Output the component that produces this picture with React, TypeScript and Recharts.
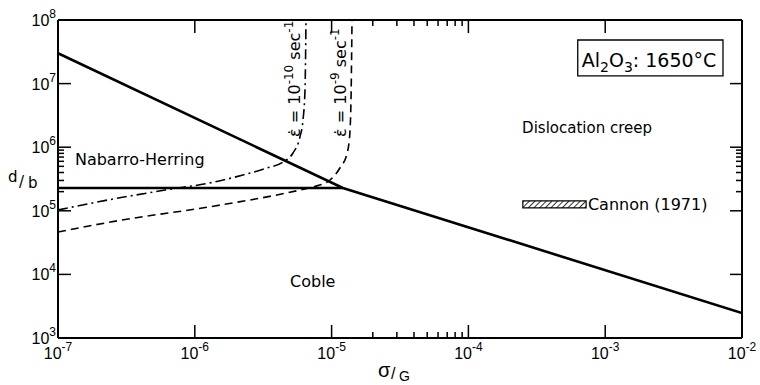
import { LineChart, Line, XAxis, YAxis, ReferenceArea, ReferenceDot } from "recharts";

const FONT = "'Liberation Sans', Arial, sans-serif";
const LABEL_FONT = "'DejaVu Sans', sans-serif";

// boundary between dislocation creep and diffusion creep (NH on the left, Coble on the right)
const boundaryStress = [1e-7, 1.21e-5, 1e-2];
const boundaryGrain = [3.0e7, 2.28e5, 2.47e3];

// Nabarro-Herring / Coble boundary
const nhCobleStress = [1e-7, 1.21e-5];
const nhCobleGrain = [2.28e5, 2.28e5];

// strain rate contour 1e-10 /sec (dash-dot)
const rate10Stress = [1e-7, 2.32e-7, 6.06e-7, 1.4e-6, 2.25e-6, 3.37e-6, 4.41e-6, 5.22e-6, 5.87e-6, 6.18e-6, 6.39e-6, 6.5e-6];
const rate10Grain = [1.03e5, 1.48e5, 2.12e5, 2.84e5, 3.66e5, 4.71e5, 5.85e5, 8.11e5, 1.45e6, 2.68e6, 7.9e6, 1e8];

// strain rate contour 1e-9 /sec (dashed)
const rate9Stress = [1e-7, 2.94e-7, 1.4e-6, 5.87e-6, 7.31e-6, 9.73e-6, 1.15e-5, 1.3e-5, 1.36e-5, 1.39e-5, 1.41e-5];
const rate9Grain = [4.65e4, 7.16e4, 1.19e5, 2.12e5, 2.37e5, 3.05e5, 4.71e5, 8.11e5, 1.67e6, 7.9e6, 1e8];

// Cannon (1971) data range
const cannonStress = [2.5e-4, 7.25e-4];
const cannonGrain = [1.11e5, 1.43e5];

const xMajorTicks = [1e-7, 1e-6, 1e-5, 1e-4, 1e-3, 1e-2];
const xMinorTicks = [2e-5, 3e-5, 4e-5, 5e-5, 6e-5, 7e-5, 8e-5, 9e-5];
const yMajorTicks = [1e3, 1e4, 1e5, 1e6, 1e7, 1e8];
const yMinorTicks = [2e5, 3e5, 4e5, 5e5, 6e5, 7e5, 8e5, 9e5];

const toPoints = (xs: number[], ys: number[]) => xs.map((x, i) => ({ x, y: ys[i] }));

const isDecade = (v: number) => Math.abs(Math.log10(v) - Math.round(Math.log10(v))) < 1e-6;
const expOf = (v: number) => Math.round(Math.log10(v));

const Pow = ({ x, y, e, anchor }: any) => (
  <text x={x} y={y} textAnchor={anchor} fontFamily={FONT} fontSize={16} fill="#000">
    10
    <tspan dy={-8} fontSize={12}>
      {e < 0 ? `-${-e}` : `${e}`}
    </tspan>
  </text>
);

const BottomTick = ({ x, y, payload }: any) => {
  const major = isDecade(payload.value);
  return (
    <g>
      <line x1={x} x2={x} y1={y} y2={y - (major ? 13 : 6)} stroke="#000" strokeWidth={1.5} />
      {major && <Pow x={x} y={y + 21} e={expOf(payload.value)} anchor="middle" />}
    </g>
  );
};

const TopTick = ({ x, y, payload }: any) => {
  const major = isDecade(payload.value);
  return <line x1={x} x2={x} y1={y} y2={y + (major ? 13 : 6)} stroke="#000" strokeWidth={1.5} />;
};

const LeftTick = ({ x, y, payload }: any) => {
  const major = isDecade(payload.value);
  return (
    <g>
      <line x1={x} x2={x + (major ? 13 : 6)} y1={y} y2={y} stroke="#000" strokeWidth={1.5} />
      {major && <Pow x={x - 2} y={y + 6} e={expOf(payload.value)} anchor="end" />}
    </g>
  );
};

const RightTick = ({ x, y, payload }: any) => {
  const major = isDecade(payload.value);
  return <line x1={x} x2={x - (major ? 12 : 6)} y1={y} y2={y} stroke="#000" strokeWidth={1.5} />;
};

const plain = (text: string, size = 15) => ({ viewBox }: any) => (
  <text x={viewBox.x} y={viewBox.y} fontFamily={LABEL_FONT} fontSize={size} fill="#000">
    {text}
  </text>
);

const rateLabel = (exp: string) => ({ viewBox }: any) => (
  <text
    transform={`translate(${viewBox.x},${viewBox.y}) rotate(-90)`}
    fontFamily={LABEL_FONT}
    fontSize={16}
    fill="#000"
  >
    {"\u03b5\u0307 = 10"}
    <tspan dy={-7} fontSize={12}>{exp}</tspan>
    <tspan dy={7}>{" sec"}</tspan>
    <tspan dy={-7} fontSize={12}>-1</tspan>
  </text>
);

const axisStroke = { stroke: "#000", strokeWidth: 2 };

export default function App() {
  return (
    <div style={{ width: 760, height: 385 }}>
      <style>{"body { margin: 0; }"}</style>
      <LineChart width={760} height={385} margin={{ top: 19, right: 17, bottom: 0, left: 8 }}>
        <defs>
          <pattern id="hatch" width="4" height="4" patternUnits="userSpaceOnUse" patternTransform="rotate(45)">
            <line x1="0" y1="0" x2="0" y2="4" stroke="#000" strokeWidth="1.6" />
          </pattern>
        </defs>
        <XAxis
          xAxisId="b"
          dataKey="x"
          type="number"
          scale="log"
          domain={[1e-7, 1e-2]}
          allowDataOverflow
          ticks={[...xMajorTicks, ...xMinorTicks]}
          interval={0}
          tickSize={0}
          tickMargin={0}
          tick={(p: any) => <BottomTick {...p} />}
          axisLine={axisStroke}
          height={47}
          label={{
            content: ({ viewBox }: any) => (
              <g fontFamily={FONT} fill="#000">
                <text x={viewBox.x + 320} y={viewBox.y + 39} fontSize={20}>{"\u03c3"}</text>
                <text x={viewBox.x + 333} y={viewBox.y + 41} fontSize={16}>/</text>
                <text x={viewBox.x + 341} y={viewBox.y + 43} fontSize={14}>G</text>
              </g>
            ),
          }}
        />
        <XAxis
          xAxisId="t"
          dataKey="x"
          type="number"
          scale="log"
          orientation="top"
          domain={[1e-7, 1e-2]}
          allowDataOverflow
          ticks={[...xMajorTicks, ...xMinorTicks]}
          interval={0}
          tickSize={0}
          tickMargin={0}
          tick={(p: any) => <TopTick {...p} />}
          axisLine={axisStroke}
          height={1}
        />
        <YAxis
          yAxisId="l"
          type="number"
          scale="log"
          domain={[1e3, 1e8]}
          allowDataOverflow
          ticks={[...yMajorTicks, ...yMinorTicks]}
          interval={0}
          tickSize={0}
          tickMargin={0}
          tick={(p: any) => <LeftTick {...p} />}
          axisLine={axisStroke}
          width={50}
          label={{
            content: ({ viewBox }: any) => (
              <g fontFamily={LABEL_FONT} fill="#000" fontSize={15}>
                <text x={viewBox.x} y={viewBox.y + 162}>d</text>
                <text x={viewBox.x + 11} y={viewBox.y + 167}>/</text>
                <text x={viewBox.x + 20} y={viewBox.y + 168}>b</text>
              </g>
            ),
          }}
        />
        <YAxis
          yAxisId="r"
          type="number"
          scale="log"
          orientation="right"
          domain={[1e3, 1e8]}
          allowDataOverflow
          ticks={[...yMajorTicks, ...yMinorTicks]}
          interval={0}
          tickSize={0}
          tickMargin={0}
          tick={(p: any) => <RightTick {...p} />}
          axisLine={axisStroke}
          width={1}
        />

        {/* invisible series so the top and right frame axes are in use */}
        <Line
          xAxisId="t"
          yAxisId="r"
          data={toPoints(boundaryStress, boundaryGrain)}
          dataKey="y"
          stroke="none"
          dot={false}
          legendType="none"
          isAnimationActive={false}
        />

        <ReferenceArea
          xAxisId="b"
          yAxisId="l"
          x1={cannonStress[0]}
          x2={cannonStress[1]}
          y1={cannonGrain[0]}
          y2={cannonGrain[1]}
          fill="url(#hatch)"
          fillOpacity={1}
          stroke="#000"
          strokeWidth={1.2}
        />
        <ReferenceArea
          xAxisId="b"
          yAxisId="l"
          x1={6.3e-4}
          x2={7.26e-3}
          y1={1.32e7}
          y2={4.85e7}
          fill="#fff"
          fillOpacity={1}
          stroke="#000"
          strokeWidth={1.3}
          label={{
            content: ({ viewBox }: any) => (
              <text x={viewBox.x + 4} y={viewBox.y + 27} fontFamily={LABEL_FONT} fontSize={19} fill="#000">
                Al<tspan dy={5} fontSize={14}>2</tspan>
                <tspan dy={-5}>O</tspan>
                <tspan dy={5} fontSize={14}>3</tspan>
                <tspan dy={-5}>: 1650°C</tspan>
              </text>
            ),
          }}
        />

        <Line
          xAxisId="b"
          yAxisId="l"
          data={toPoints(nhCobleStress, nhCobleGrain)}
          dataKey="y"
          stroke="#000"
          strokeWidth={2.4}
          dot={false}
          isAnimationActive={false}
        />
        <Line
          xAxisId="b"
          yAxisId="l"
          data={toPoints(boundaryStress, boundaryGrain)}
          dataKey="y"
          stroke="#000"
          strokeWidth={2.6}
          dot={false}
          isAnimationActive={false}
        />
        <Line
          xAxisId="b"
          yAxisId="l"
          type="monotone"
          data={toPoints(rate10Stress, rate10Grain)}
          dataKey="y"
          stroke="#000"
          strokeWidth={1.6}
          strokeDasharray="10 4 2 4"
          dot={false}
          isAnimationActive={false}
        />
        <Line
          xAxisId="b"
          yAxisId="l"
          type="monotone"
          data={toPoints(rate9Stress, rate9Grain)}
          dataKey="y"
          stroke="#000"
          strokeWidth={1.6}
          strokeDasharray="8 5"
          dot={false}
          isAnimationActive={false}
        />

        <ReferenceDot xAxisId="b" yAxisId="l" x={1.33e-7} y={5.25e5} r={0} fill="none" stroke="none" label={{ content: plain("Nabarro-Herring", 16) }} />
        <ReferenceDot xAxisId="b" yAxisId="l" x={2.47e-4} y={1.67e6} r={0} fill="none" stroke="none" label={{ content: plain("Dislocation creep", 15) }} />
        <ReferenceDot xAxisId="b" yAxisId="l" x={4.97e-6} y={6.34e3} r={0} fill="none" stroke="none" label={{ content: plain("Coble", 16) }} />
        <ReferenceDot xAxisId="b" yAxisId="l" x={7.48e-4} y={1.03e5} r={0} fill="none" stroke="none" label={{ content: plain("Cannon (1971)", 16) }} />
        <ReferenceDot xAxisId="b" yAxisId="l" x={5.9e-6} y={1.45e6} r={0} fill="none" stroke="none" label={{ content: rateLabel("-10") }} />
        <ReferenceDot xAxisId="b" yAxisId="l" x={1.27e-5} y={1.45e6} r={0} fill="none" stroke="none" label={{ content: rateLabel("-9") }} />
      </LineChart>
    </div>
  );
}
